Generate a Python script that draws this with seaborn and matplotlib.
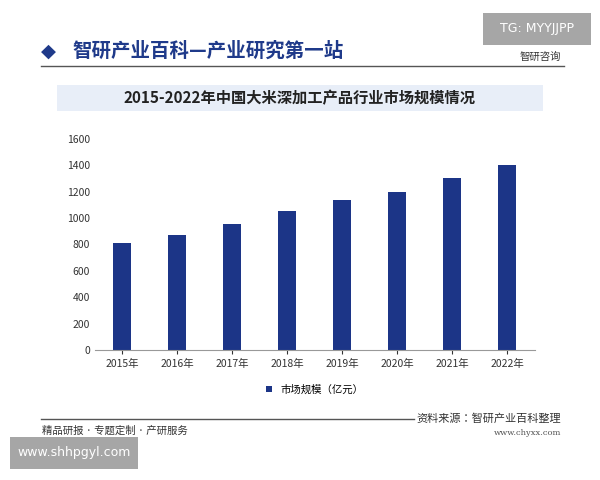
import matplotlib
matplotlib.use("Agg")
import matplotlib.pyplot as plt
from matplotlib import font_manager
import seaborn as sns
import pandas as pd

# locate a CJK font file and register it
cjk_name = None
for path in font_manager.findSystemFonts():
    if "CJK" in path or "cjk" in path.lower():
        try:
            font_manager.fontManager.addfont(path)
        except Exception:
            pass
for f in font_manager.fontManager.ttflist:
    if "CJK SC" in f.name:
        cjk_name = f.name
        break
if cjk_name is None:
    for f in font_manager.fontManager.ttflist:
        if "CJK" in f.name:
            cjk_name = f.name
            break
plt.rcParams["font.family"] = "sans-serif"
plt.rcParams["font.sans-serif"] = [cjk_name or "Noto Sans CJK SC", "DejaVu Sans"]
plt.rcParams["axes.unicode_minus"] = False

years = ["2015年", "2016年", "2017年", "2018年", "2019年", "2020年", "2021年", "2022年"]
market_size = [811, 872, 955, 1054, 1137, 1198, 1304, 1403]
yticks = [0, 200, 400, 600, 800, 1000, 1200, 1400, 1600]

df = pd.DataFrame({"year": years, "size": market_size})

fig = plt.figure(figsize=(6, 4.8), dpi=100)
fig.patch.set_facecolor("white")

# header
fig.text(0.068, 0.893, "◆", color="#1f3a8a", fontsize=14, va="center", family="DejaVu Sans")
fig.text(0.12, 0.893, "智研产业百科—产业研究第一站", color="#1f3a8a",
         fontsize=14, va="center", fontweight="bold")
fig.text(0.935, 0.882, "智研咨询", color="#333333", fontsize=7.5, ha="right", va="center")
fig.add_artist(plt.Line2D([0.068, 0.94], [0.862, 0.862], color="#555555", lw=1))
fig.patches.append(plt.Rectangle((0.095, 0.768), 0.81, 0.055, transform=fig.transFigure,
                                 facecolor="#e8eef8", edgecolor="none"))
fig.text(0.5, 0.795, "2015-2022年中国大米深加工产品行业市场规模情况", fontsize=11,
         fontweight="bold", ha="center", va="center", color="#222222")
# TG label
fig.patches.append(plt.Rectangle((0.805, 0.906), 0.18, 0.067, transform=fig.transFigure,
                                 facecolor="#a6a6a6", edgecolor="none"))
fig.text(0.895, 0.94, "TG: MYYJJPP", color="white", fontsize=9, ha="center", va="center",
         family="DejaVu Sans")

ax = fig.add_axes([0.158, 0.271, 0.733, 0.44])
sns.barplot(data=df, x="year", y="size", color="#1c3587", width=0.33,
            saturation=1, ax=ax, label="市场规模（亿元）")
ax.set_ylim(0, 1600)
ax.set_yticks(yticks)
ax.set_xlabel("")
ax.set_ylabel("")
ax.tick_params(axis="both", labelsize=7.5, length=0, colors="#333333")
ax.tick_params(axis="x", length=3)
for s in ["top", "right", "left"]:
    ax.spines[s].set_visible(False)
ax.spines["bottom"].set_color("#999999")
ax.legend(loc="upper center", bbox_to_anchor=(0.5, -0.12), frameon=False,
          fontsize=7.5, handlelength=0.6, handleheight=0.6)

# footer
fig.add_artist(plt.Line2D([0.068, 0.69], [0.128, 0.128], color="#555555", lw=1))
fig.text(0.935, 0.128, "资料来源：智研产业百科整理", fontsize=8, ha="right", va="center", color="#333333")
fig.text(0.935, 0.097, "www.chyxx.com", fontsize=6, ha="right", va="center", color="#555555",
         family="DejaVu Serif")
fig.text(0.07, 0.103, "精品研报 · 专题定制 · 产研服务", fontsize=7.5, va="center", color="#333333")
fig.patches.append(plt.Rectangle((0.017, 0.023), 0.213, 0.067, transform=fig.transFigure,
                                 facecolor="#a6a6a6", edgecolor="none"))
fig.text(0.123, 0.057, "www.shhpgyl.com", color="white", fontsize=9, ha="center", va="center",
         family="DejaVu Sans")

fig.savefig("out.png", dpi=100)
